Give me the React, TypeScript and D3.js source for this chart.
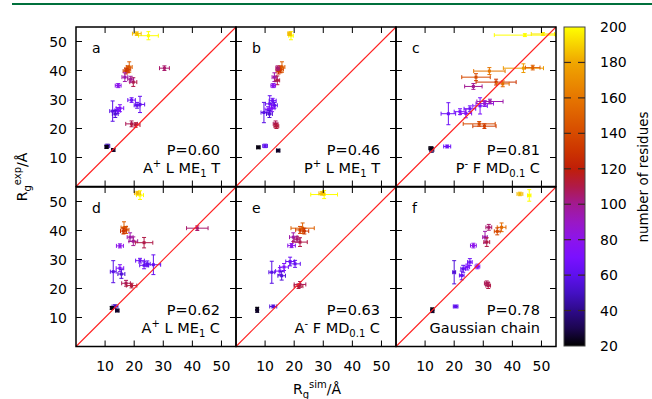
import React from "react";
import * as d3 from "d3";

// [R_g sim, R_g exp, sim err, exp err, number of residues]
type Pt = [number, number, number, number, number];

const panelA: Pt[] = [
  [24.9, 52.0, 3.4, 1.4, 200], [20.9, 52.7, 1.5, 0.6, 185],
  [18.3, 41.2, 1.0, 1.8, 150], [17.8, 40.4, 1.0, 1.2, 140], [17.2, 39.8, 1.0, 1.0, 130],
  [30.4, 40.8, 1.7, 0.8, 105], [16.8, 37.7, 1.0, 1.5, 95], [19.7, 36.0, 1.2, 1.5, 110],
  [18.8, 37.0, 1.0, 1.0, 100], [14.5, 34.8, 1.0, 0.7, 80], [19.1, 29.8, 1.3, 0.8, 65],
  [22.0, 28.3, 1.6, 2.8, 62], [21.0, 28.0, 1.0, 1.0, 60], [15.1, 27.0, 1.3, 1.2, 72],
  [14.3, 26.2, 1.0, 1.0, 70], [12.6, 26.0, 1.0, 3.5, 58], [13.5, 25.0, 1.0, 1.2, 55],
  [19.1, 21.6, 2.0, 1.0, 108], [20.5, 21.2, 1.5, 0.8, 112], [10.8, 14.0, 0.8, 0.6, 45],
  [10.5, 13.6, 0.5, 0.5, 22], [12.8, 12.6, 0.6, 0.5, 25],
];
const panelB: Pt[] = [
  [18.9, 52.0, 0.8, 1.4, 200], [18.4, 52.7, 0.6, 0.6, 185],
  [15.8, 41.2, 1.0, 1.8, 150], [15.3, 40.4, 1.0, 1.2, 140], [14.6, 39.8, 0.8, 1.0, 130],
  [14.3, 40.8, 0.6, 0.8, 105], [13.2, 37.7, 0.8, 1.5, 95], [14.2, 36.6, 0.8, 1.5, 110],
  [12.8, 34.8, 0.8, 0.7, 80], [12.6, 29.6, 1.2, 0.8, 65], [11.6, 28.5, 1.5, 2.8, 62],
  [13.2, 28.0, 1.0, 1.0, 60], [12.4, 27.0, 1.0, 1.2, 72], [11.0, 26.5, 1.0, 1.0, 70],
  [9.6, 25.5, 1.0, 3.5, 58], [11.5, 25.0, 1.0, 1.2, 55], [13.6, 21.6, 0.8, 1.0, 108],
  [13.9, 20.8, 0.8, 0.8, 112], [10.0, 14.0, 0.8, 0.6, 60], [7.7, 13.5, 0.6, 0.5, 22],
  [14.5, 12.4, 0.6, 0.5, 25],
];
const panelC: Pt[] = [
  [44.3, 52.2, 10.5, 0.5, 200], [50.5, 52.6, 4.0, 0.5, 195],
  [43.8, 40.8, 6.9, 1.5, 175], [47.0, 41.0, 2.5, 0.8, 150], [32.1, 39.8, 5.4, 1.2, 160],
  [27.5, 37.7, 4.9, 1.2, 140], [34.4, 36.0, 6.9, 1.0, 130], [36.7, 35.4, 2.2, 1.0, 155],
  [26.6, 34.5, 3.0, 1.0, 100], [32.3, 29.3, 4.5, 0.8, 95], [30.5, 28.6, 3.0, 1.0, 85],
  [28.9, 27.8, 2.5, 2.8, 70], [25.4, 26.8, 2.0, 1.0, 65], [22.0, 25.8, 2.0, 1.0, 70],
  [24.0, 25.2, 2.0, 1.5, 75], [18.0, 25.1, 2.5, 3.8, 65], [28.6, 21.6, 5.5, 0.8, 140],
  [30.4, 20.8, 4.0, 0.8, 135], [17.6, 13.8, 1.2, 0.5, 65], [12.3, 12.6, 0.7, 0.8, 30],
  [12.0, 13.2, 0.7, 0.5, 22],
];
const panelD: Pt[] = [
  [22.0, 52.2, 1.2, 1.5, 200], [21.1, 52.9, 1.0, 0.6, 185],
  [16.5, 41.0, 1.0, 2.0, 150], [17.2, 40.2, 1.0, 1.2, 140], [16.3, 39.8, 1.0, 1.0, 130],
  [41.7, 40.8, 3.7, 0.8, 105], [18.6, 37.7, 1.0, 1.5, 95], [19.7, 36.3, 1.5, 1.5, 100],
  [23.4, 35.8, 3.0, 1.8, 110], [15.1, 34.7, 1.2, 0.7, 80], [22.0, 29.6, 1.5, 0.8, 65],
  [23.4, 28.0, 1.5, 1.2, 62], [24.5, 28.5, 1.0, 1.0, 60], [26.6, 28.2, 2.5, 3.4, 62],
  [15.1, 27.0, 1.3, 1.2, 72], [12.8, 25.8, 1.0, 3.8, 58], [15.6, 25.0, 1.2, 1.5, 55],
  [17.2, 21.8, 1.5, 1.0, 108], [19.1, 21.0, 1.8, 0.8, 112], [13.4, 13.8, 1.0, 0.6, 50],
  [12.3, 13.3, 0.5, 0.5, 22], [14.2, 12.4, 0.6, 0.5, 25],
];
const panelE: Pt[] = [
  [30.3, 52.4, 4.6, 1.4, 200], [29.5, 52.8, 1.0, 0.6, 185],
  [22.9, 40.8, 4.0, 1.8, 150], [22.0, 40.2, 1.5, 1.2, 140], [23.5, 39.8, 1.5, 1.0, 130],
  [19.7, 37.7, 1.3, 1.5, 95], [22.0, 36.0, 2.5, 1.5, 110], [21.0, 37.0, 1.0, 1.0, 105],
  [19.1, 34.8, 1.3, 0.7, 80], [18.6, 29.3, 1.5, 1.5, 65], [20.3, 28.5, 1.8, 1.2, 62],
  [16.5, 27.4, 1.5, 1.2, 72], [15.1, 26.0, 1.5, 1.2, 70], [12.3, 25.6, 1.0, 3.8, 58],
  [15.7, 24.4, 1.3, 1.5, 55], [22.0, 21.4, 2.0, 1.0, 108], [21.5, 20.8, 1.5, 0.8, 112],
  [12.8, 13.8, 1.2, 0.5, 55], [7.3, 13.0, 0.4, 0.5, 22], [7.3, 12.3, 0.4, 0.5, 25],
];
const panelF: Pt[] = [
  [45.8, 52.1, 0.6, 2.0, 200], [42.6, 52.6, 1.0, 0.6, 185],
  [36.3, 41.1, 1.5, 1.5, 155], [34.8, 39.7, 1.0, 1.2, 140], [31.9, 41.1, 1.0, 1.0, 105],
  [30.6, 37.7, 0.8, 2.0, 95], [31.2, 36.0, 1.0, 1.5, 110], [26.6, 34.8, 1.0, 0.8, 80],
  [25.4, 29.1, 0.8, 1.2, 65], [28.0, 27.6, 0.8, 0.8, 75], [23.1, 26.8, 0.8, 1.2, 60],
  [20.0, 25.6, 0.5, 4.0, 55], [22.6, 24.5, 0.8, 1.5, 62], [24.5, 27.4, 0.8, 1.0, 70],
  [31.7, 21.0, 0.8, 1.0, 110], [31.2, 21.8, 0.8, 0.8, 108], [20.5, 13.8, 0.8, 0.5, 60],
  [12.5, 12.8, 0.5, 0.5, 22], [12.5, 12.2, 0.5, 0.5, 25],
];

const panelData = [panelA, panelB, panelC, panelD, panelE, panelF];
const panelLetters = ["a", "b", "c", "d", "e", "f"];
const pLabels = ["P=0.60", "P=0.46", "P=0.81", "P=0.62", "P=0.63", "P=0.78"];
// [text, "" | "sup" | "sub"]
const modelLabels: [string, string][][] = [
  [["A", ""], ["+", "sup"], [" L ME", ""], ["1", "sub"], [" T", ""]],
  [["P", ""], ["+", "sup"], [" L ME", ""], ["1", "sub"], [" T", ""]],
  [["P", ""], ["-", "sup"], [" F MD", ""], ["0.1", "sub"], [" C", ""]],
  [["A", ""], ["+", "sup"], [" L ME", ""], ["1", "sub"], [" C", ""]],
  [["A", ""], ["-", "sup"], [" F MD", ""], ["0.1", "sub"], [" C", ""]],
  [["Gaussian chain", ""]],
];
const axisTicks = [10, 20, 30, 40, 50];
const cbTicks = [20, 40, 60, 80, 100, 120, 140, 160, 180, 200];

const paletteStops = [20, 30, 40, 50, 60, 70, 80, 90, 100, 110, 120, 130, 140, 160, 180, 200];
const paletteColors = [
  "#000000", "#1c0650", "#2e0a8a", "#4410c4", "#5e10ee", "#7a10ff", "#8c14ec", "#9a18c4",
  "#a21a92", "#b01a48", "#c01e08", "#cc3400", "#d64a00", "#e67600", "#f0a600", "#ffff00",
];
const color = d3.scaleLinear<string>().domain(paletteStops).range(paletteColors).clamp(true);

const FONT = "DejaVu Sans, sans-serif";
const left0 = 76, top0 = 27, pw = 160, ph = 159.5;
const x = d3.scaleLinear().domain([0, 55]).range([0, pw]);
const y = d3.scaleLinear().domain([0, 55]).range([ph, 0]);
const cbX = 564, cbW = 21, cbTop = 27, cbBottom = 346;
const cb = d3.scaleLinear().domain([20, 200]).range([cbBottom, cbTop]);

function Label({ parts, ...rest }: { parts: [string, string][] } & any) {
  let shift = 0;
  return (
    <text {...rest}>
      {parts.map(([t, kind], i) => {
        const target = kind === "sup" ? -6 : kind === "sub" ? 4 : 0;
        const dy = target - shift;
        shift = target;
        return (
          <tspan key={i} dy={dy} fontSize={kind ? 10 : undefined}>{t}</tspan>
        );
      })}
    </text>
  );
}

function Panel({ i }: { i: number }) {
  const col = i % 3, row = Math.floor(i / 3);
  const ox = left0 + col * pw, oy = Math.round(top0 + row * ph);
  const pts = panelData[i];
  const cap = 2;
  return (
    <g transform={`translate(${ox},${oy})`}>
      <defs>
        <clipPath id={`clip${i}`}><rect width={pw} height={ph} /></clipPath>
      </defs>
      <g clipPath={`url(#clip${i})`}>
        {pts.map((d, k) => {
          const c = color(d[4]);
          const cx = x(d[0]), cy = y(d[1]);
          const x1 = x(d[0] - d[2]), x2 = x(d[0] + d[2]);
          const y1 = y(d[1] - d[3]), y2 = y(d[1] + d[3]);
          return (
            <g key={k} stroke={c} strokeWidth={1} fill="none">
              <line x1={x1} x2={x2} y1={cy} y2={cy} />
              <line x1={x1} x2={x1} y1={cy - cap} y2={cy + cap} />
              <line x1={x2} x2={x2} y1={cy - cap} y2={cy + cap} />
              <line x1={cx} x2={cx} y1={y1} y2={y2} />
              <line x1={cx - cap} x2={cx + cap} y1={y1} y2={y1} />
              <line x1={cx - cap} x2={cx + cap} y1={y2} y2={y2} />
              <rect x={cx - 1.5} y={cy - 1.5} width={3} height={3} fill={c} stroke="none" />
            </g>
          );
        })}
      </g>
      <line x1={x(0)} y1={y(0)} x2={x(55)} y2={y(55)} stroke="#ff2020" strokeWidth={1.1} />
      {axisTicks.map((v) => (
        <g key={v} stroke="#000" strokeWidth={1}>
          <line x1={x(v)} x2={x(v)} y1={ph} y2={ph - 6} />
          <line x1={x(v)} x2={x(v)} y1={0} y2={6} />
          <line x1={0} x2={6} y1={y(v)} y2={y(v)} />
          <line x1={pw - 6} x2={pw} y1={y(v)} y2={y(v)} />
        </g>
      ))}
      <rect width={pw} height={ph} fill="none" stroke="#000" strokeWidth={1.5} />
      <text x={16} y={26} fontSize={14} fontFamily={FONT}>{panelLetters[i]}</text>
      <text x={pw - 16} y={ph - 32} fontSize={14.5} fontFamily={FONT} textAnchor="end">{pLabels[i]}</text>
      <Label parts={modelLabels[i]} x={pw - 16} y={ph - 14} fontSize={14.5} fontFamily={FONT} textAnchor="end" />
      {col === 0 && axisTicks.map((v) => (
        <text key={v} x={-9} y={y(v)} dy="0.36em" fontSize={14} fontFamily={FONT} textAnchor="end">{v}</text>
      ))}
      {row === 1 && axisTicks.map((v) => (
        <text key={v} x={x(v)} y={ph + 24} fontSize={14} fontFamily={FONT} textAnchor="middle">{v}</text>
      ))}
    </g>
  );
}

export default function App() {
  return (
    <svg width={652} height={399} style={{ position: "absolute", left: 0, top: 0, background: "#fff" }}>
      <defs>
        <linearGradient id="cbGrad" x1="0" y1="1" x2="0" y2="0">
          {paletteStops.map((s, k) => (
            <stop key={k} offset={(s - 20) / 180} stopColor={paletteColors[k]} />
          ))}
        </linearGradient>
      </defs>
      <rect width={652} height={399} fill="#fff" />
      <line x1={12} x2={652} y1={4} y2={4} stroke="#00703c" strokeWidth={2} />
      {panelData.map((_, i) => <Panel key={i} i={i} />)}

      <Label
        parts={[["R", ""], ["g", "sub"], ["exp", "sup"], ["/Å", ""]]}
        transform="translate(27,177) rotate(-90)"
        fontSize={14} fontFamily={FONT} textAnchor="middle"
      />
      <Label
        parts={[["R", ""], ["g", "sub"], ["sim", "sup"], ["/Å", ""]]}
        x={317} y={394}
        fontSize={14} fontFamily={FONT} textAnchor="middle"
      />

      <rect x={cbX} y={cbTop} width={cbW} height={cbBottom - cbTop} fill="url(#cbGrad)" stroke="#444" strokeWidth={1} />
      {cbTicks.slice(1, -1).map((v) => (
        <g key={v} stroke="#3a2a20" strokeWidth={1.2}>
          <line x1={cbX} x2={cbX + 7} y1={cb(v)} y2={cb(v)} />
          <line x1={cbX + cbW - 7} x2={cbX + cbW} y1={cb(v)} y2={cb(v)} />
        </g>
      ))}
      {cbTicks.map((v) => (
        <text key={v} x={600} y={cb(v)} dy="0.36em" fontSize={14} fontFamily={FONT}>{v}</text>
      ))}
      <text transform="translate(648,177) rotate(-90)" fontSize={13.5} fontFamily={FONT} textAnchor="middle">
        number of residues
      </text>
    </svg>
  );
}
